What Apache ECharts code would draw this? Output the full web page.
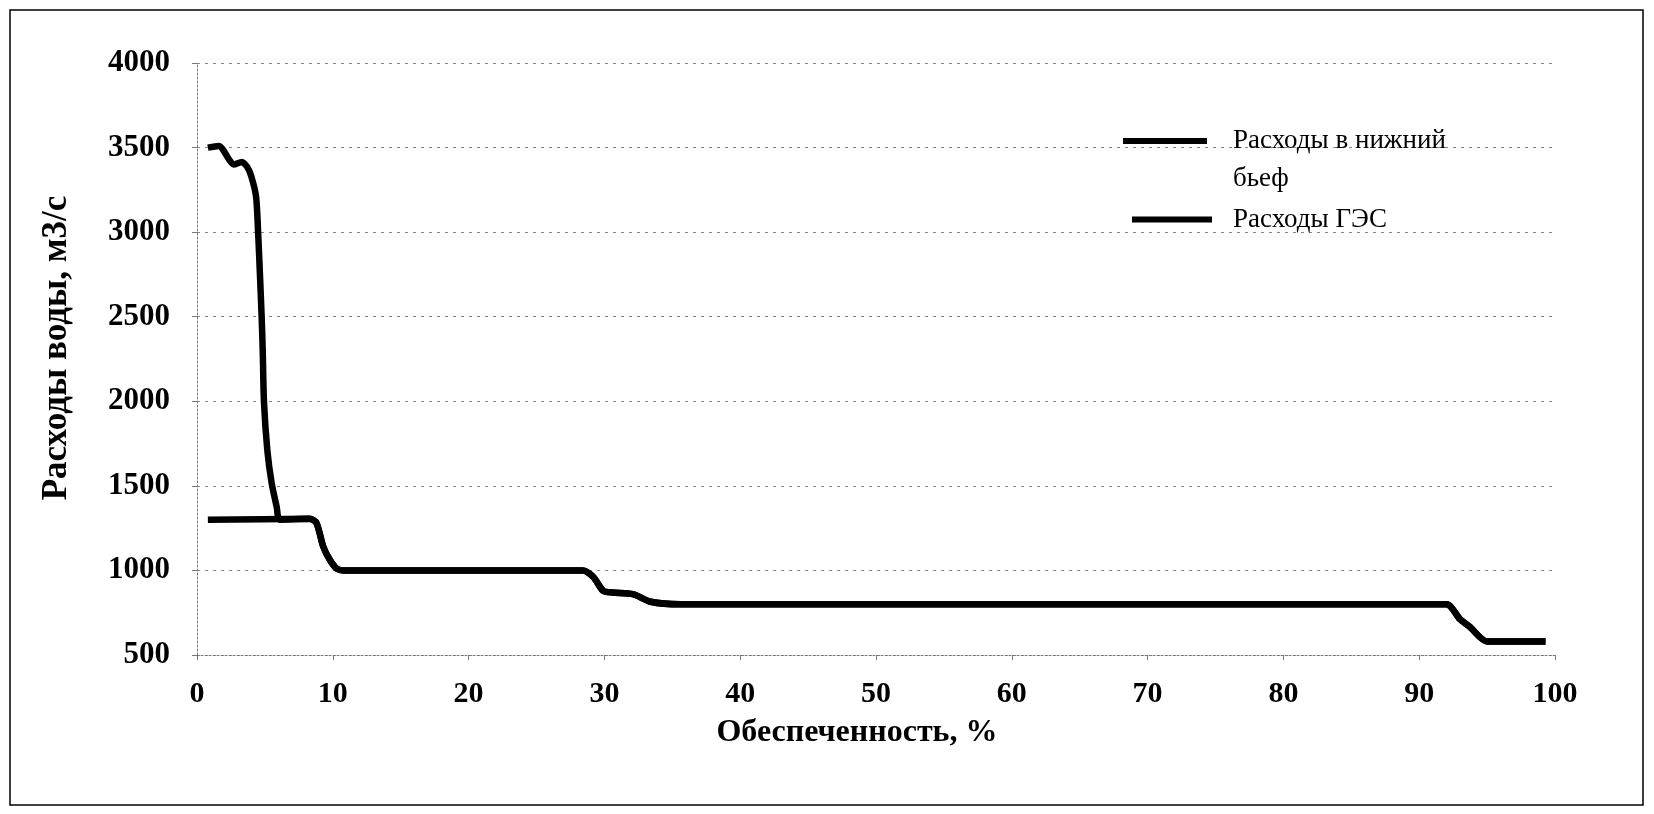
<!DOCTYPE html>
<html>
<head>
<meta charset="utf-8">
<script src="https://cdn.jsdelivr.net/npm/echarts@6/dist/echarts.min.js"></script>
<style>
html,body{margin:0;padding:0;background:#fff;}
#c{width:1654px;height:814px;}
</style>
</head>
<body>
<div id="c"></div>
<script>
// Series names
const nameBief = 'Расходы в нижний бьеф';
const nameGES = 'Расходы ГЭС';

// Обеспеченность, % (x) and flows, m3/s (y) — head of the "нижний бьеф" curve (before it joins ГЭС curve)
const biefX = [0.8, 1.6, 2.4, 2.7, 3.3, 3.7, 4.0, 4.35, 4.5, 4.64, 4.76, 4.84, 4.93, 5.18, 5.5, 5.87, 6.1];
const biefY = [3500, 3510, 3425, 3400, 3415, 3385, 3330, 3210, 3000, 2740, 2500, 2300, 2000, 1710, 1515, 1375, 1300];

// ГЭС curve
const gesX = [0.8, 8.3, 8.8, 9.3, 9.8, 10.3, 10.8, 28.4, 29.2, 29.9, 30.6, 32.1, 33.4, 35.6, 92.0, 93.0, 93.7, 95.0, 99.3];
const gesY = [1300, 1305, 1280, 1140, 1060, 1010, 1000, 1000, 960, 880, 870, 860, 815, 800, 800, 712, 668, 580, 580];

// Axis ticks
const xTicks = {min: 0, max: 100, interval: 10};
const yTicks = {min: 500, max: 4000, interval: 500};

const gesData = gesX.map((x, i) => [x, gesY[i]]);
const biefData = biefX.map((x, i) => [x, biefY[i]])
  .concat(gesData.filter(p => p[0] > biefX[biefX.length - 1]));

const serif = '"Liberation Serif", "Times New Roman", serif';
const chart = echarts.init(document.getElementById('c'));
chart.setOption({
  animation: false,
  backgroundColor: '#fff',
  graphic: [{
    type: 'rect', shape: {x: 10, y: 10, width: 1633, height: 795},
    style: {fill: 'none', stroke: '#000', lineWidth: 1.5}, silent: true, z: -1
  }],
  grid: {left: 197, right: 99, top: 63, bottom: 159, containLabel: false},
  legend: [{
    data: [nameBief], orient: 'vertical', left: 1123, top: 84, padding: 0,
    itemWidth: 84, itemHeight: 6, icon: 'rect',
    formatter: () => ' \nРасходы в нижний\nбьеф',
    textStyle: {fontFamily: serif, fontSize: 27, color: '#000', lineHeight: 38, padding: [0, 0, 0, 21]}
  }, {
    data: [nameGES], orient: 'vertical', left: 1132, top: 201, padding: 0,
    itemWidth: 80, itemHeight: 6, icon: 'rect',
    textStyle: {fontFamily: serif, fontSize: 27, color: '#000', lineHeight: 37, padding: [0, 0, 0, 16]}
  }],
  xAxis: {
    type: 'value', min: xTicks.min, max: xTicks.max, interval: xTicks.interval,
    name: 'Обеспеченность, %', nameLocation: 'middle', nameGap: 62,
    nameTextStyle: {fontFamily: serif, fontSize: 32, fontWeight: 'bold', color: '#000', padding: [0, 38, 0, 0]},
    axisLine: {lineStyle: {color: '#777', width: 1, type: [2, 2]}},
    axisTick: {show: true, length: 5, lineStyle: {color: '#777'}},
    axisLabel: {fontFamily: serif, fontSize: 30, fontWeight: 'bold', color: '#000', margin: 24},
    splitLine: {show: false}
  },
  yAxis: {
    type: 'value', min: yTicks.min, max: yTicks.max, interval: yTicks.interval,
    name: 'Расходы воды, м3/с', nameLocation: 'middle', nameGap: 123, nameRotate: 90,
    nameTextStyle: {fontFamily: serif, fontSize: 35, fontWeight: 'bold', color: '#000', padding: [0, 0, 0, 22]},
    axisLine: {show: true, lineStyle: {color: '#777', width: 1, type: [2, 2]}},
    axisTick: {show: true, length: 5, lineStyle: {color: '#777'}},
    axisLabel: {fontFamily: serif, fontSize: 31, fontWeight: 'bold', color: '#000', margin: 27,
      formatter: v => String(v)},
    splitLine: {show: true, lineStyle: {color: '#888', width: 1, type: [3, 5]}}
  },
  series: [{
    name: nameBief, type: 'line', data: biefData, showSymbol: false, smooth: 0.25,
    lineStyle: {color: '#000', width: 6.5}, itemStyle: {color: '#000'}
  }, {
    name: nameGES, type: 'line', data: gesData, showSymbol: false, smooth: 0.25,
    lineStyle: {color: '#000', width: 6.5}, itemStyle: {color: '#000'}
  }]
});
</script>
</body>
</html>
